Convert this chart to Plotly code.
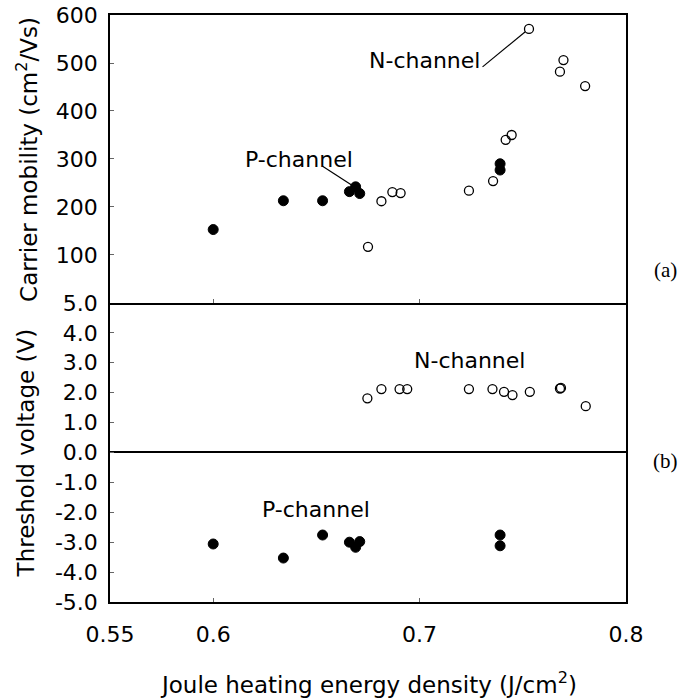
import plotly.graph_objects as go

# ---- data ----
P_x = [0.600, 0.634, 0.653, 0.666, 0.669, 0.671, 0.739, 0.739]
P_mobility = [153, 213, 213, 232, 242, 228, 290, 277]
P_vth = [-3.06, -3.53, -2.76, -3.00, -3.17, -2.98, -2.76, -3.12]

N_x_mobility = [0.675, 0.6815, 0.6868, 0.6908, 0.7239, 0.7356, 0.7417, 0.7446, 0.753, 0.768, 0.7697, 0.7802]
N_mobility = [117, 212, 231, 229, 234, 254, 340, 350, 571, 482, 506, 452]

N_x_vth = [0.6747, 0.6815, 0.6903, 0.694, 0.7239, 0.7353, 0.7409, 0.745, 0.7534, 0.768, 0.7685, 0.7805]
N_vth = [1.81, 2.12, 2.12, 2.12, 2.12, 2.12, 2.03, 1.92, 2.03, 2.14, 2.16, 1.55]

x_ticks = [0.55, 0.6, 0.7, 0.8]
x_ticktext = ["0.55", "0.6", "0.7", "0.8"]
mob_ticks = [100, 200, 300, 400, 500, 600]
vth_ticks = [5, 4, 3, 2, 1, 0, -1, -2, -3, -4, -5]
vth_ticktext = ["5.0", "4.0", "3.0", "2.0", "1.0", "0.0", "-1.0", "-2.0", "-3.0", "-4.0", "-5.0"]

FONT = "DejaVu Sans"
split = 0.5094

filled = dict(symbol="circle", size=10, color="black", line=dict(color="black", width=1))
hollow = dict(symbol="circle-open", size=9, color="black", line=dict(color="black", width=1.3))

fig = go.Figure()
# top panel (mobility)
fig.add_trace(go.Scatter(x=N_x_mobility, y=N_mobility, mode="markers", marker=hollow,
                         xaxis="x2", yaxis="y2", showlegend=False))
fig.add_trace(go.Scatter(x=P_x, y=P_mobility, mode="markers", marker=filled,
                         xaxis="x2", yaxis="y2", showlegend=False))
# bottom panel (threshold voltage)
fig.add_trace(go.Scatter(x=N_x_vth, y=N_vth, mode="markers", marker=hollow,
                         xaxis="x", yaxis="y", showlegend=False))
fig.add_trace(go.Scatter(x=P_x, y=P_vth, mode="markers", marker=filled,
                         xaxis="x", yaxis="y", showlegend=False))

axis_common = dict(showline=True, linecolor="black", linewidth=1.5,
                   showgrid=False, ticks="inside", ticklen=4, tickwidth=1, tickcolor="#666",
                   automargin=False, ticklabeloverflow="allow",
                   tickfont=dict(family=FONT, size=22, color="black"))

fig.update_layout(
    template="none",
    width=695, height=698, autosize=False,
    margin=dict(l=110, r=69, t=15, b=96),
    paper_bgcolor="white", plot_bgcolor="white",
    xaxis=dict(domain=[0, 1], range=[0.55, 0.8], anchor="y", mirror=False,
               tickvals=x_ticks, ticktext=x_ticktext, zeroline=False,
               ticklabelstandoff=12, **axis_common),
    xaxis2=dict(domain=[0, 1], range=[0.55, 0.8], anchor="y2", matches="x", mirror=True,
                tickvals=x_ticks, showticklabels=False, zeroline=False, **axis_common),
    yaxis=dict(domain=[0, split], range=[-5, 5], anchor="x", mirror=True,
               tickvals=vth_ticks, ticktext=vth_ticktext,
               zeroline=True, zerolinecolor="black", zerolinewidth=1.5,
               ticklabelstandoff=6, **axis_common),
    yaxis2=dict(domain=[split, 1], range=[0, 600], anchor="x2", mirror=True,
                tickvals=mob_ticks, zeroline=False, ticklabelstandoff=6, **axis_common),
)

# leader lines
fig.add_shape(type="line", xref="x2", yref="y2", x0=0.7305, y0=492, x1=0.7512, y1=565,
              line=dict(color="black", width=1.2))
fig.add_shape(type="line", xref="x2", yref="y2", x0=0.653, y0=285, x1=0.6676, y1=244,
              line=dict(color="black", width=1.2))

tfont = dict(family=FONT, size=22, color="black")
fig.add_annotation(text="N-channel", xref="x2", yref="y2", x=0.7300, y=506,
                   xanchor="right", yanchor="middle", showarrow=False, font=tfont)
fig.add_annotation(text="P-channel", xref="x2", yref="y2", x=0.6416, y=298,
                   xanchor="center", yanchor="middle", showarrow=False, font=tfont)
fig.add_annotation(text="N-channel", xref="x", yref="y", x=0.7243, y=3.06,
                   xanchor="center", yanchor="middle", showarrow=False, font=tfont)
fig.add_annotation(text="P-channel", xref="x", yref="y", x=0.6496, y=-1.89,
                   xanchor="center", yanchor="middle", showarrow=False, font=tfont)

# axis titles
titlefont = dict(family=FONT, size=23, color="black")
fig.add_annotation(text="Carrier mobility (cm<sup>2</sup>/Vs)", xref="paper", yref="paper",
                   x=-0.161, y=(split + 1) / 2, textangle=-90, showarrow=False,
                   xanchor="center", yanchor="middle", font=titlefont)
fig.add_annotation(text="Threshold voltage (V)", xref="paper", yref="paper",
                   x=-0.161, y=split / 2, textangle=-90, showarrow=False,
                   xanchor="center", yanchor="middle", font=titlefont)
fig.add_annotation(text="Joule heating energy density (J/cm<sup>2</sup>)", xref="paper", yref="paper",
                   x=0.5, y=-0.138, showarrow=False, xanchor="center", yanchor="middle",
                   font=titlefont)

# panel labels
serif = dict(family="Liberation Serif", size=21, color="black")
fig.add_annotation(text="(a)", xref="paper", yref="paper", x=1.0775, y=0.5656,
                   showarrow=False, xanchor="center", yanchor="middle", font=serif)
fig.add_annotation(text="(b)", xref="paper", yref="paper", x=1.0775, y=0.2402,
                   showarrow=False, xanchor="center", yanchor="middle", font=serif)

# remove the default page margin so the figure sits at the window's top-left corner
fig.write_html("out.html", config={"displayModeBar": False},
               post_script="document.body.style.margin='0';")
